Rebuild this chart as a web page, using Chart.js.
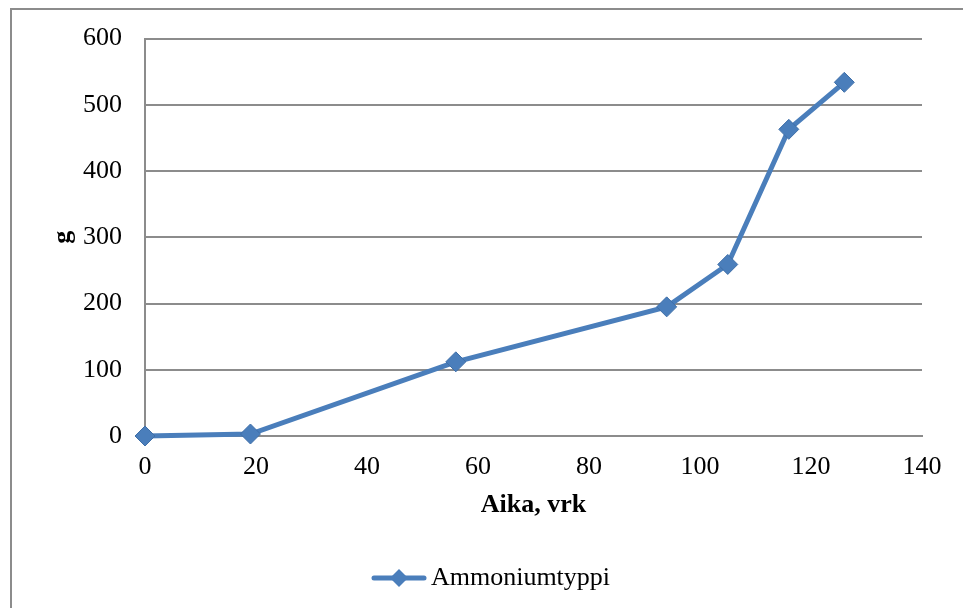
<!DOCTYPE html>
<html>
<head>
<meta charset="utf-8">
<script src="https://cdn.jsdelivr.net/npm/chart.js@4.4.1/dist/chart.umd.min.js"></script>
<style>
  html, body { margin: 0; padding: 0; background: #fff; overflow: hidden; }
  #wrap { position: relative; width: 963px; height: 608px; }
  #frame {
    position: absolute; left: 10px; top: 8px; width: 1000px; height: 700px;
    border-left: 2px solid #8c8c8c; border-top: 2px solid #8c8c8c;
    pointer-events: none;
  }
  canvas { position: absolute; left: 0; top: 0; }
</style>
</head>
<body>
<div id="wrap">
  <div id="frame"></div>
  <canvas id="chart" width="963" height="608"></canvas>
</div>
<script>
// Aika (vrk) ja ammoniumtyppi (g)
const days = [0, 19, 56, 94, 105, 116, 126];
const ammonium = [0, 3, 112, 195, 259, 463, 534];
const seriesName = 'Ammoniumtyppi';
const xTitle = 'Aika, vrk';
const yTitle = 'g';

const BLUE = '#4a7ebb';
const GRID = '#8c8c8c';
const FONT = "'Liberation Serif', 'Times New Roman', serif";

// legend symbol: line with a diamond in the middle
function legendSymbol() {
    const c = document.createElement('canvas');
    c.width = 56; c.height = 22;
    const g = c.getContext('2d');
    g.strokeStyle = BLUE;
    g.lineWidth = 5;
    g.lineCap = 'round';
    g.beginPath();
    g.moveTo(3, 11); g.lineTo(53, 11);
    g.stroke();
    g.fillStyle = BLUE;
    g.beginPath();
    g.moveTo(28, 2); g.lineTo(37, 11); g.lineTo(28, 20); g.lineTo(19, 11);
    g.closePath();
    g.fill();
    return c;
}

// move the legend a bit right, like the original
const legendShift = {
    id: 'legendShift',
    afterLayout(chart) {
        chart.legend.left += 14;
        chart.legend.right += 14;
    }
};

const ctx = document.getElementById('chart').getContext('2d');
const sym = legendSymbol();

new Chart(ctx, {
    type: 'line',
    data: {
        datasets: [{
            label: seriesName,
            data: days.map((d, i) => ({ x: d, y: ammonium[i] })),
            borderColor: BLUE,
            backgroundColor: BLUE,
            borderWidth: 5,
            pointStyle: 'rectRot',
            pointRadius: 10,
            pointBorderWidth: 1,
            pointBorderColor: '#3f6fa8',
            pointBackgroundColor: BLUE,
            tension: 0,
            clip: false
        }]
    },
    options: {
        responsive: false,
        animation: false,
        layout: { padding: { left: 40, right: 41, top: 38, bottom: 7 } },
        scales: {
            x: {
                type: 'linear',
                min: 0,
                max: 140,
                afterFit: s => { s.height = 119; },
                ticks: {
                    stepSize: 20,
                    padding: 16,
                    color: '#000',
                    font: { family: FONT, size: 26 }
                },
                grid: { display: false, drawTicks: false },
                border: { display: true, color: GRID, width: 2 },
                title: {
                    display: true,
                    text: xTitle,
                    color: '#000',
                    padding: { top: 34, bottom: 34 },
                    font: { family: FONT, size: 26, weight: 'bold' }
                }
            },
            y: {
                min: 0,
                max: 600,
                afterFit: s => { s.width = 105; },
                ticks: {
                    stepSize: 100,
                    padding: 23,
                    color: '#000',
                    font: { family: FONT, size: 26 }
                },
                grid: { color: GRID, lineWidth: 2, drawTicks: false },
                border: { display: true, color: GRID, width: 2 },
                title: {
                    display: true,
                    text: yTitle,
                    color: '#000',
                    padding: { top: 8, bottom: 8 },
                    font: { family: FONT, size: 26, weight: 'bold' }
                }
            }
        },
        plugins: {
            legend: {
                position: 'bottom',
                labels: {
                    color: '#000',
                    font: { family: FONT, size: 26 },
                    usePointStyle: true,
                    pointStyleWidth: 38,
                    padding: 10,
                    generateLabels: chart => [{
                        text: seriesName,
                        pointStyle: sym,
                        fillStyle: BLUE,
                        strokeStyle: BLUE,
                        lineWidth: 0,
                        datasetIndex: 0
                    }]
                }
            },
            tooltip: { enabled: false }
        }
    },
    plugins: [legendShift]
});
</script>
</body>
</html>
